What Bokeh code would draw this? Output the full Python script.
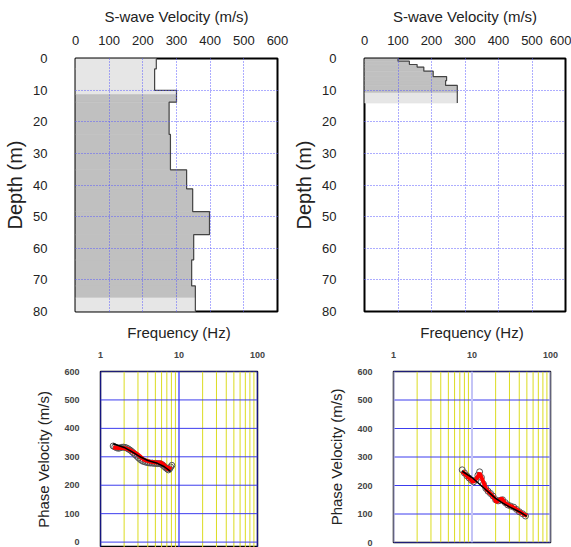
from bokeh.plotting import figure
from bokeh.layouts import column, row
from bokeh.models import Range1d, FixedTicker, NumeralTickFormatter
from bokeh.embed import file_html
from bokeh.resources import INLINE

# ---------------- data ----------------
vs_ticks = [0, 100, 200, 300, 400, 500, 600]
depth_ticks = [0, 10, 20, 30, 40, 50, 60, 70, 80]
pv_ticks = [0, 100, 200, 300, 400, 500, 600]
freq_ticks = [1, 10, 100]
freq_minor = [2, 3, 4, 5, 6, 7, 8, 9, 20, 30, 40, 50, 60, 70, 80, 90]

# left site: S-wave velocity layers
L_top = [0, 3.3, 10.1, 13.8, 24, 35.2, 41.2, 48.4, 55.7, 63.7, 71.9]
L_bot = [3.3, 10.1, 13.8, 24, 35.2, 41.2, 48.4, 55.7, 63.7, 71.9, 80]
L_vs = [240, 235, 300, 278, 282, 330, 348, 398, 351, 345, 356]
L_resolved = [11.4, 75.7]

# right site: S-wave velocity layers
R_top = [0, 0.85, 1.9, 2.7, 4.0, 5.7, 7.0, 8.5]
R_bot = [0.85, 1.9, 2.7, 4.0, 5.7, 7.0, 8.5, 14.1]
R_vs = [100, 134, 157, 177, 205, 245, 242, 277]
R_resolved = [0, 10.9]

# left site: dispersion
L_obs_f = [1.45, 1.52, 1.6, 1.68, 1.76, 1.85, 1.95, 2.05, 2.15, 2.25, 2.37, 2.5, 2.62,
           2.75, 2.9, 3.05, 3.2, 3.35, 3.5, 3.7, 3.9, 4.1, 4.3, 4.55, 4.8, 5.05, 5.3,
           5.6, 5.9, 6.2, 6.5, 6.8, 7.1, 7.35, 7.6, 7.85, 8.1]
L_obs_v = [338, 335, 332, 330, 331, 333, 334, 333, 331, 328, 324, 319, 314, 308, 302,
           296, 291, 287, 284, 282, 280, 279, 278, 278, 277, 277, 276, 276, 275, 271,
           266, 261, 257, 254, 258, 264, 270]
L_red_f = [1.45, 1.7, 2.0, 2.3, 2.6, 2.94, 3.3, 3.6, 4.2, 4.8, 5.4, 5.84, 6.3, 6.77, 7.25, 7.5, 7.8]
L_red_v = [333, 331, 331, 326, 318, 310, 298, 289, 283, 281, 280, 280, 274, 266, 255, 258, 266]
L_fit_f = [1.45, 2.0, 2.5, 3.2, 4.0, 5.3, 6.5, 7.8]
L_fit_v = [346, 333, 318, 300, 287, 277, 265, 249]

# right site: dispersion
R_obs_f = [7.5, 8.0, 8.6, 9.2, 9.8, 10.5, 11.2, 11.9, 12.5, 13.2, 14.0, 15.0, 16.0,
           17.2, 18.5, 20.0, 21.5, 23.0, 24.5, 26.5, 28.5, 31, 34, 37, 40, 44, 48]
R_obs_v = [255, 244, 234, 226, 218, 213, 220, 236, 248, 228, 205, 190, 180, 172, 163,
           150, 146, 148, 150, 140, 132, 128, 124, 116, 108, 101, 93]
R_red_f = [7.5, 8.5, 9.5, 10.3, 11.5, 12.5, 13.5, 15.2, 17, 19, 20.4, 22.5, 24, 26, 29,
           33, 37, 42, 47, 50]
R_red_v = [250, 235, 222, 212, 225, 244, 222, 187, 172, 158, 142, 150, 155, 140, 131,
           125, 116, 105, 97, 93]
R_fit_f = [7.5, 10, 15, 20, 25, 30, 40, 50]
R_fit_v = [250, 228, 185, 155, 137, 125, 108, 92]

FONT = "Liberation Sans"
DARK = "#c0c0c0"
LIGHT = "#e6e6e6"


def vs_panel(tops, bots, vs, res, w, bl, br):
    p = figure(width=w, height=320, x_range=Range1d(0, 600), y_range=Range1d(80, 0),
               x_axis_location="above", toolbar_location=None, output_backend="svg",
               min_border_left=bl, min_border_right=br, min_border_top=58,
               min_border_bottom=9, background_fill_color="white",
               border_fill_color="white")
    q = dict(left=[], right=[], top=[], bottom=[], color=[])
    for t, b, v in zip(tops, bots, vs):
        cuts = sorted(set([t, b] + [c for c in res if t < c < b]))
        for a, c in zip(cuts[:-1], cuts[1:]):
            mid = (a + c) / 2
            q["left"].append(0)
            q["right"].append(v)
            q["top"].append(a)
            q["bottom"].append(c)
            q["color"].append(DARK if res[0] <= mid <= res[1] else LIGHT)
    p.quad(left="left", right="right", top="top", bottom="bottom", fill_color="color",
           line_color="color", line_width=0.6, source=q)
    xs, ys = [], []
    for t, b, v in zip(tops, bots, vs):
        xs += [v, v]
        ys += [t, b]
    p.line(xs, ys, line_color="#444444", line_width=1.2)

    p.xaxis.ticker = FixedTicker(ticks=vs_ticks)
    p.yaxis.ticker = FixedTicker(ticks=depth_ticks)
    for g in (p.xgrid, p.ygrid):
        g.grid_line_color = "#5a5aff"
        g.grid_line_dash = "1 2"
        g.grid_line_width = 1
        g.level = "guide"
    p.xaxis.axis_label = "S-wave Velocity (m/s)"
    p.yaxis.axis_label = "Depth (m)"
    for ax in (p.xaxis, p.yaxis):
        ax.axis_line_color = None
        ax.major_tick_line_color = None
        ax.minor_tick_line_color = None
        ax.major_label_text_font = FONT
        ax.major_label_text_font_size = "13px"
        ax.major_label_text_font_style = "normal"
        ax.major_label_text_color = "#222222"
        ax.axis_label_text_font = FONT
        ax.axis_label_text_font_style = "normal"
        ax.axis_label_text_color = "#222222"
    p.xaxis.axis_label_text_font_size = "15px"
    p.yaxis.axis_label_text_font_size = "20px"
    p.xaxis.major_label_standoff = 8
    p.xaxis.axis_label_standoff = 8
    p.yaxis.major_label_standoff = 22
    p.yaxis.axis_label_standoff = 4
    p.outline_line_color = "black"
    p.outline_line_width = 2
    return p


def disp_panel(w, bl, br, bt, bb, ystart, of, ov, rf, rv, ff, fv, vcol, vwidth):
    p = figure(width=w, height=227, x_axis_type="log", x_range=Range1d(1, 100),
               y_range=Range1d(ystart, 600), x_axis_location="above",
               toolbar_location=None, output_backend="svg",
               min_border_left=bl, min_border_right=br, min_border_top=bt,
               min_border_bottom=bb, background_fill_color="white",
               border_fill_color="white")
    xt = FixedTicker(ticks=freq_ticks)
    p.xaxis.ticker = xt
    p.xaxis.formatter = NumeralTickFormatter(format="0")
    p.yaxis.ticker = FixedTicker(ticks=pv_ticks)
    p.xgrid.grid_line_color = None
    p.ygrid.grid_line_color = None

    # grid drawn as glyphs: yellow minor frequency lines, blue major lines
    n_min = len(freq_minor)
    p.segment(x0=freq_minor, x1=freq_minor, y0=[ystart] * n_min, y1=[600] * n_min,
              line_color="#dcdc20", line_width=1)
    n_pv = len(pv_ticks)
    p.segment(x0=[freq_ticks[0]] * n_pv, x1=[freq_ticks[-1]] * n_pv, y0=pv_ticks,
              y1=pv_ticks, line_color="#3c3cee", line_width=1)
    n_f = len(freq_ticks)
    p.segment(x0=freq_ticks, x1=freq_ticks, y0=[ystart] * n_f, y1=[600] * n_f,
              line_color=vcol, line_width=vwidth)

    p.scatter(of, ov, size=6, marker="circle", fill_color=None, line_color="#555555",
              line_width=1)
    p.line(rf, rv, line_color="#ff0000", line_width=4)
    p.line(ff, fv, line_color="black", line_width=1.5)

    p.xaxis.axis_label = "Frequency (Hz)"
    p.yaxis.axis_label = "Phase Velocity (m/s)"
    for ax in (p.xaxis, p.yaxis):
        ax.axis_line_color = None
        ax.major_tick_line_color = None
        ax.minor_tick_line_color = None
        ax.major_label_text_font = FONT
        ax.major_label_text_font_size = "9px"
        ax.major_label_text_font_style = "bold"
        ax.major_label_text_color = "#444444"
        ax.axis_label_text_font = FONT
        ax.axis_label_text_font_style = "normal"
        ax.axis_label_text_font_size = "15px"
        ax.axis_label_text_color = "#222222"
    p.xaxis.major_label_standoff = 8
    p.xaxis.axis_label_standoff = 8
    p.yaxis.major_label_standoff = 15
    p.yaxis.axis_label_standoff = 9
    p.outline_line_color = "black"
    p.outline_line_width = 1.5
    return p


p1 = vs_panel(L_top, L_bot, L_vs, L_resolved, 290, 75, 13)
p2 = vs_panel(R_top, R_bot, R_vs, R_resolved, 281, 73, 6)
p3 = disp_panel(290, 100, 33, 51, 0, -19, L_obs_f, L_obs_v, L_red_f, L_red_v,
                L_fit_f, L_fit_v, "#2a2aff", 1.2)
p4 = disp_panel(281, 103, 21, 45, 5, 0, R_obs_f, R_obs_v, R_red_f, R_red_v,
                R_fit_f, R_fit_v, "#c4c4f6", 2)

layout = column(row(p1, p2, spacing=0),
                row(column(p3, spacing=0), column(p4, spacing=0), spacing=0),
                spacing=0)
open("out.html", "w").write(file_html(layout, INLINE))
